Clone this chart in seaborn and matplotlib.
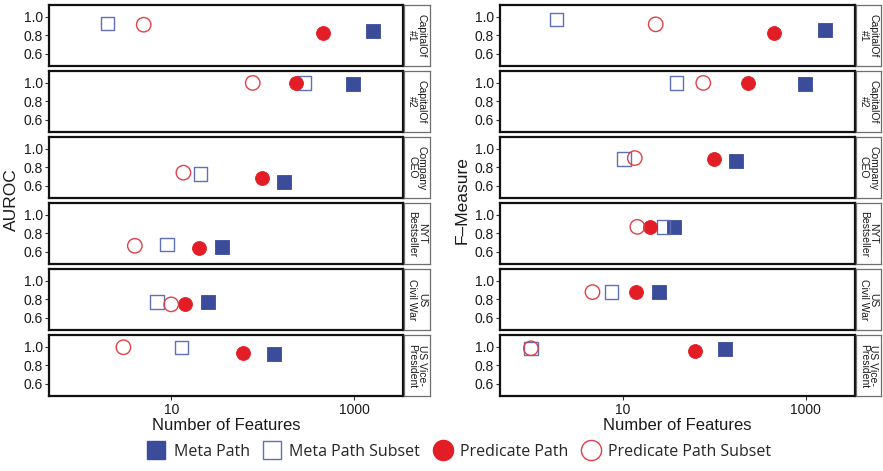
import numpy as np
import pandas as pd
import matplotlib
matplotlib.use("Agg")
import matplotlib.pyplot as plt
from matplotlib.lines import Line2D
import seaborn as sns

# ---- data ----
facets = ["CapitalOf\n#1", "CapitalOf\n#2", "Company\nCEO",
          "NYT\nBestseller", "US\nCivil War", "US Vice-\nPresident"]
methods = ["Meta Path", "Meta Path Subset", "Predicate Path", "Predicate Path Subset"]

# number of features (full sets are the same for both measures)
mp_feat = [1630, 980, 173, 36, 25, 132]
pp_feat = [455, 234, 99, 20, 14, 61]
mps_feat_auc = [2.0, 283, 21, 9, 7, 13]
pps_feat_auc = [5, 78, 13.6, 4, 10, 3]
mps_feat_f = [1.9, 39, 10.4, 28, 7.6, 1.0]
pps_feat_f = [23, 76, 13.6, 14.5, 4.7, 1.0]

# AUROC
mp_auc = [0.844, 0.99, 0.644, 0.652, 0.767, 0.919]
mps_auc = [0.93, 1.0, 0.726, 0.674, 0.770, 0.996]
pp_auc = [0.826, 1.0, 0.681, 0.641, 0.744, 0.93]
pps_auc = [0.915, 1.0, 0.741, 0.663, 0.744, 0.996]

# F-Measure
mp_f = [0.859, 0.99, 0.870, 0.867, 0.878, 0.974]
mps_f = [0.974, 1.0, 0.889, 0.867, 0.878, 0.985]
pp_f = [0.826, 1.0, 0.889, 0.867, 0.878, 0.959]
pps_f = [0.919, 1.0, 0.900, 0.870, 0.878, 0.985]

measures = ["AUROC", "F\u2013Measure"]

rows = []
for measure, feats, vals in [
    ("AUROC", [mp_feat, mps_feat_auc, pp_feat, pps_feat_auc], [mp_auc, mps_auc, pp_auc, pps_auc]),
    ("F\u2013Measure", [mp_feat, mps_feat_f, pp_feat, pps_feat_f], [mp_f, mps_f, pp_f, pps_f]),
]:
    for m, fx, vy in zip(methods, feats, vals):
        for fac, x, y in zip(facets, fx, vy):
            rows.append({"measure": measure, "method": m, "facet": fac, "features": x, "value": y})
df = pd.DataFrame(rows)

# ---- styling ----
BLUE = "#3b4c9b"
RED = "#e21d25"
style = {
    "Meta Path": dict(marker="s", color=BLUE, edgecolor=BLUE, linewidth=0.6, s=88),
    "Meta Path Subset": dict(marker="s", color="#5f70b6", facecolor="none", edgecolor="#5f70b6", linewidth=1.0, s=92),
    "Predicate Path": dict(marker="o", color=RED, edgecolor=RED, linewidth=0.6, s=100),
    "Predicate Path Subset": dict(marker="o", color="#e04048", facecolor="none", edgecolor="#e04048", linewidth=1.0, s=108),
}

sns.set_style("white")
plt.rcParams["font.family"] = ["Liberation Sans", "DejaVu Sans"]

W, H = 883, 471
fig = plt.figure(figsize=(W / 100, H / 100), dpi=100)

col_x = [(49, 403, 404, 430), (500, 855, 856, 881)]
row_top0, row_h, row_step = 5, 61.4, 66.0

for ci, measure in enumerate(measures):
    px0, px1, sx0, sx1 = col_x[ci]
    for ri, fac in enumerate(facets):
        top = row_top0 + ri * row_step
        ax = fig.add_axes([px0 / W, 1 - (top + row_h) / H, (px1 - px0) / W, row_h / H])
        sub = df[(df.measure == measure) & (df.facet == fac)]
        for m in methods:
            d = sub[sub.method == m]
            sns.scatterplot(data=d, x="features", y="value", ax=ax, legend=False,
                            zorder=3, **style[m])
        ax.set_xscale("log")
        ax.set_xlim(0.46, 3440)
        ax.set_ylim(0.46, 1.13)
        ax.set_yticks([0.6, 0.8, 1.0])
        ax.set_yticklabels(["0.6", "0.8", "1.0"])
        ax.set_xticks([10, 1000])
        ax.xaxis.set_minor_locator(matplotlib.ticker.NullLocator())
        ax.set_xlabel("")
        ax.set_ylabel("")
        ax.tick_params(axis="both", length=3, width=0.8, color="#333333",
                       labelsize=10, labelcolor="#1a1a1a", pad=1.5, left=True)
        if ri == len(facets) - 1:
            ax.set_xticklabels(["10", "1000"])
            ax.tick_params(axis="x", bottom=True)
            ax.set_xlabel("Number of Features", fontsize=12, labelpad=1, color="#1a1a1a")
        else:
            ax.tick_params(axis="x", bottom=False, labelbottom=False)
        for sp in ax.spines.values():
            sp.set_color("#111111")
            sp.set_linewidth(1.6)

        # facet strip on the right
        sax = fig.add_axes([sx0 / W, 1 - (top + row_h) / H, (sx1 - sx0) / W, row_h / H])
        sax.set_xticks([])
        sax.set_yticks([])
        for sp in sax.spines.values():
            sp.set_color("#6e6e6e")
            sp.set_linewidth(0.9)
        sax.text(0.5, 0.5, fac, rotation=270, ha="center", va="center",
                 fontsize=7.5, color="#1a1a1a", linespacing=0.95, transform=sax.transAxes)

    fig.text((px0 - 38) / W, 1 - 200 / H, measure, rotation=90, ha="center", va="center",
             fontsize=12.5, color="#1a1a1a")

handles = [
    Line2D([], [], linestyle="none", marker="s", markersize=13.5, markerfacecolor=BLUE, markeredgecolor=BLUE),
    Line2D([], [], linestyle="none", marker="s", markersize=13.5, markerfacecolor="none",
           markeredgecolor="#5f70b6", markeredgewidth=1.0),
    Line2D([], [], linestyle="none", marker="o", markersize=14.5, markerfacecolor=RED, markeredgecolor=RED),
    Line2D([], [], linestyle="none", marker="o", markersize=14.5, markerfacecolor="none",
           markeredgecolor="#e04048", markeredgewidth=1.0),
]
fig.legend(handles, methods, loc="center", bbox_to_anchor=(459 / W, 1 - 452 / H), ncol=4,
           frameon=False, handlelength=1.2, handletextpad=0.5, columnspacing=0.8,
           prop={"family": ["Open Sans", "DejaVu Sans"], "size": 11.5})

fig.savefig("out.png", dpi=100)
